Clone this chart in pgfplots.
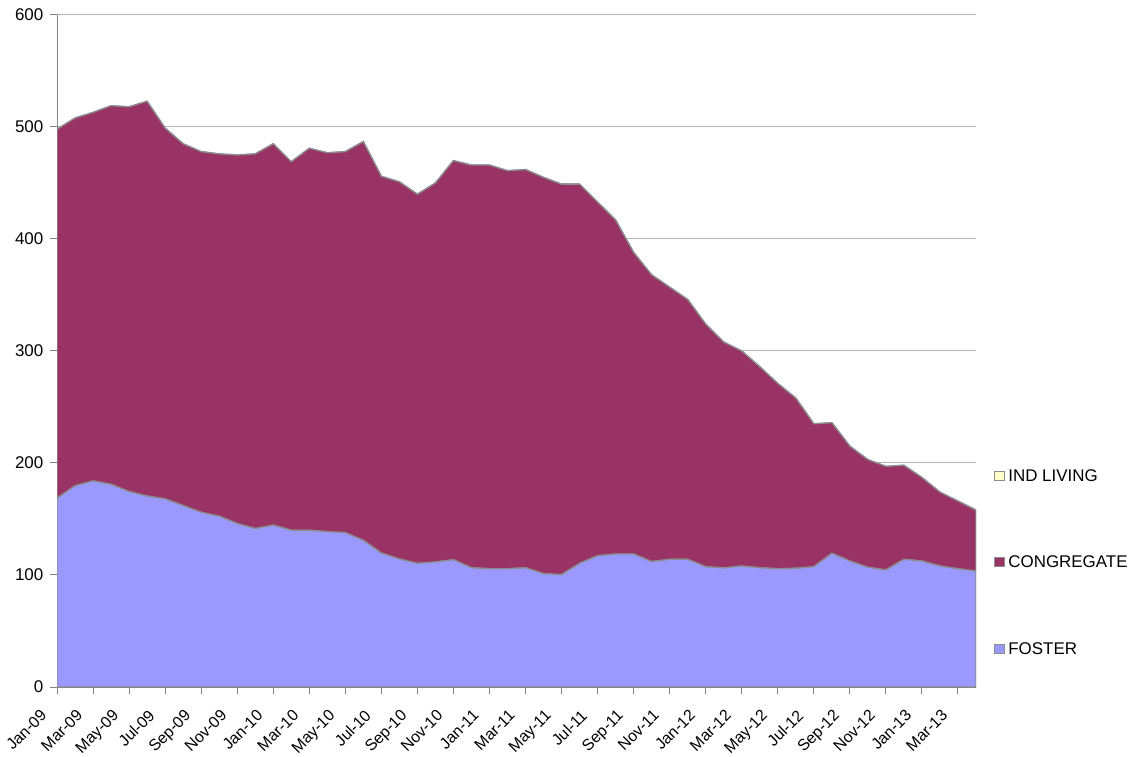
\documentclass[border=0pt]{standalone}
\usepackage{pgfplots}
\pgfplotsset{compat=1.18}
\usepackage{pgfplotstable}
\usepackage{fontspec}
\setmainfont{Liberation Sans}
\definecolor{foster}{HTML}{9999FF}
\definecolor{congr}{HTML}{993366}
\definecolor{indliv}{HTML}{FFFFCC}
\definecolor{edge}{HTML}{8C8C8C}
\definecolor{gridc}{HTML}{B4B4B4}
\definecolor{axc}{HTML}{868686}
\pgfplotstableread{
i foster congr ind
0 168.5 329.5 0
1 179.7 328.3 0
2 184.0 329.0 0
3 181.0 338.0 0
4 174.5 343.5 0
5 170.5 352.5 0
6 168.0 331.0 0
7 162.0 323.0 0
8 156.0 322.0 0
9 152.5 323.5 0
10 146.0 329.0 0
11 141.5 334.5 0
12 144.5 340.5 0
13 140.0 329.0 0
14 140.0 341.0 0
15 138.7 338.3 0
16 137.8 340.2 0
17 131.0 356.0 0
18 119.6 336.4 0
19 114.3 336.7 0
20 110.4 329.6 0
21 111.6 338.4 0
22 113.7 356.3 0
23 106.5 359.5 0
24 105.6 360.4 0
25 105.6 355.4 0
26 106.5 355.5 0
27 101.2 353.8 0
28 100.3 348.7 0
29 110.4 338.6 0
30 117.2 315.8 0
31 118.75 298.25 0
32 118.75 269.25 0
33 112.0 256.0 0
34 114.0 243.0 0
35 114.0 232.0 0
36 107.4 216.6 0
37 106.3 201.7 0
38 108.0 192.0 0
39 106.5 179.5 0
40 105.6 165.4 0
41 106.0 152.0 0
42 107.4 127.6 0
43 119.4 116.6 0
44 112.5 102.5 0
45 106.9 96.1 0
46 104.5 92.5 0
47 114.0 84.0 0
48 112.5 74.5 0
49 108.0 66.0 0
50 105.6 60.4 0
51 103.6 54.4 0
}\datatable
\begin{document}
\begin{tikzpicture}
\begin{axis}[
  at={(57bp,70bp)}, anchor=south west,
  scale only axis, width=919bp, height=672bp,
  xmin=0, xmax=51, ymin=0, ymax=600,
  ytick={0,100,...,600},
  xtick={0,2,...,50},
  xticklabels={Jan-09,Mar-09,May-09,Jul-09,Sep-09,Nov-09,Jan-10,Mar-10,May-10,Jul-10,Sep-10,Nov-10,Jan-11,Mar-11,May-11,Jul-11,Sep-11,Nov-11,Jan-12,Mar-12,May-12,Jul-12,Sep-12,Nov-12,Jan-13,Mar-13},
  axis x line*=bottom, axis y line*=left,
  axis line style={draw=axc, line width=1bp},
  tick style={draw=axc, line width=1bp},
  tick align=outside, major tick length=6.5bp,
  ymajorgrids, grid style={draw=gridc, line width=1bp},
  /pgf/number format/assume math mode=true,
  tick label style={font=\fontsize{16}{18}\selectfont, text=black},
  yticklabel style={inner xsep=7bp, font=\fontsize{17}{19}\selectfont},
  xticklabel style={rotate=45, anchor=north east, inner sep=1bp, xshift=-21.9bp, yshift=2.9bp},
  stack plots=y,
  reverse legend,
  legend style={draw=none, fill=none, at={(1.0162,0.3300)}, anchor=north west,
    row sep=70.5bp, font=\fontsize{17}{19}\selectfont,
    nodes={inner xsep=4bp, inner ysep=2bp, text height=12bp, text depth=0bp}},
  legend cell align=left,
  legend image code/.code={\draw[#1,draw=edge,line width=0.8bp] (-3bp,-4.5bp) rectangle (6.5bp,4.5bp);},
]
\addplot[fill=foster, draw=edge, line width=1.3bp] table[x=i, y=foster]{\datatable} \closedcycle;
\addlegendentry{FOSTER}
\addplot[fill=congr, draw=edge, line width=1.3bp] table[x=i, y=congr]{\datatable} \closedcycle;
\addlegendentry{CONGREGATE}
\addplot[fill=indliv, draw=edge, line width=1.3bp] table[x=i, y=ind]{\datatable} \closedcycle;
\addlegendentry{IND LIVING}
\end{axis}
\pgfresetboundingbox
\path[use as bounding box] (0,0) rectangle (1136bp,757bp);
\end{tikzpicture}
\end{document}
